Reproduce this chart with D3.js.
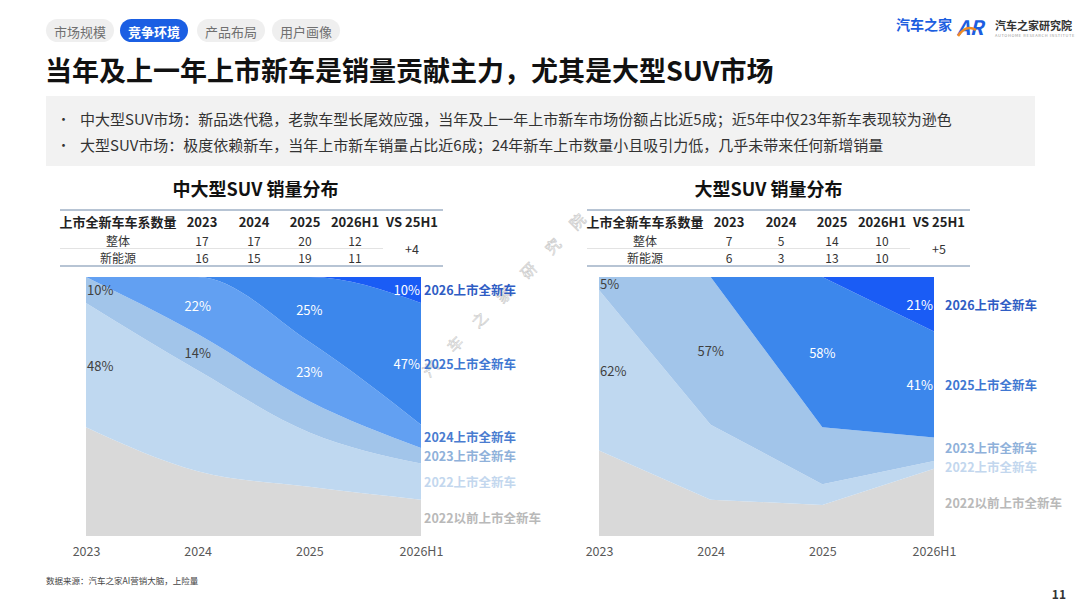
<!DOCTYPE html>
<html>
<head>
<meta charset="utf-8">
<script src="https://cdn.jsdelivr.net/npm/d3@7"></script>
<style>
  body { margin: 0; background: #fff; }
  svg { display: block; font-family: "Noto Sans CJK SC", "Noto Sans", sans-serif; }
</style>
</head>
<body>
<div id="vis"></div>
<script>
// chart values
const YEARS = ['2023', '2024', '2025', '2026H1'];
const LAYERS = ['2022以前上市全新车', '2022上市全新车', '2023上市全新车', '2024上市全新车', '2025上市全新车', '2026上市全新车'];

// 中大型SUV share by launch year (%)
const MID_OLD = [42, 25, 19, 14];
const MID_2022 = [48, 39, 21, 14];
const MID_2023 = [10, 14, 12, 6];
const MID_2024 = [0, 22, 23, 9];
const MID_2025 = [0, 0, 25, 47];
const MID_2026 = [0, 0, 0, 10];

// 大型SUV share by launch year (%), no 2024 layer
const LG_OLD = [33, 14, 12, 26];
const LG_2022 = [62, 29, 8, 3];
const LG_2023 = [5, 57, 22, 9];
const LG_2025 = [0, 0, 58, 41];
const LG_2026 = [0, 0, 0, 21];

// which values get a label: [layer, year index]
const MID_LABELS = [[2, 0], [1, 0], [3, 1], [2, 1], [4, 2], [3, 2], [5, 3], [4, 3]];
const LG_LABELS = [[2, 0], [1, 0], [2, 1], [4, 2], [5, 3], [4, 3]];

// tables
const TABLE_HEAD = ['上市全新车车系数量', '2023', '2024', '2025', '2026H1', 'VS 25H1'];
const ROW_NAMES = ['整体', '新能源'];
const MID_ALL = [17, 17, 20, 12];
const MID_NEV = [16, 15, 19, 11];
const MID_VS = '+4';
const LG_ALL = [7, 5, 14, 10];
const LG_NEV = [6, 3, 13, 10];
const LG_VS = '+5';

const TABS = ['市场规模', '竞争环境', '产品布局', '用户画像'];
const BULLETS = [
  '中大型SUV市场：新品迭代稳，老款车型长尾效应强，当年及上一年上市新车市场份额占比近5成；近5年中仅23年新车表现较为逊色',
  '大型SUV市场：极度依赖新车，当年上市新车销量占比近6成；24年新车上市数量小且吸引力低，几乎未带来任何新增销量'
];

// styles
const LAYER_COLORS = ['#d9d9d9', '#bfd8f0', '#a2c5ea', '#62a0f2', '#3c87ec', '#1a5cf5'];
const LEGEND_COLORS = ['#b9b9b9', '#c3d7ee', '#8fb1da', '#4a7cd0', '#3f77d2', '#2f5dc4'];
const LABEL_COLORS = ['#404040', '#404040', '#404040', '#ffffff', '#ffffff', '#ffffff'];

const FRAME_WIDTH = 1080;
const FRAME_HEIGHT = 608;

const SVG = d3.select('#vis')
  .append('svg')
    .attr('width', FRAME_WIDTH)
    .attr('height', FRAME_HEIGHT);

// ---------- header ----------
const TAB_X = [46, 120, 197, 272];
TABS.forEach((t, i) => {
  const active = i === 1;
  SVG.append('rect')
    .attr('x', TAB_X[i]).attr('y', 19)
    .attr('width', 68).attr('height', 23)
    .attr('rx', 11.5)
    .attr('fill', active ? '#1b5fe3' : '#efefef');
  SVG.append('text')
    .attr('x', TAB_X[i] + 34).attr('y', 31)
    .attr('text-anchor', 'middle')
    .attr('dominant-baseline', 'central')
    .attr('font-size', 13)
    .attr('font-weight', active ? 'bold' : 'normal')
    .attr('fill', active ? '#fff' : '#707070')
    .text(t);
});

SVG.append('text')
  .attr('x', 45).attr('y', 81)
  .attr('font-size', 27)
  .attr('font-weight', 'bold')
  .attr('fill', '#111')
  .text('当年及上一年上市新车是销量贡献主力，尤其是大型SUV市场');

// logo
SVG.append('text')
  .attr('x', 896).attr('y', 30)
  .attr('font-size', 14).attr('font-weight', 'bold')
  .attr('fill', '#1c5ee0')
  .text('汽车之家');
SVG.append('text')
  .attr('x', 957).attr('y', 35)
  .attr('font-size', 20).attr('font-weight', 'bold')
  .attr('font-style', 'italic')
  .attr('fill', '#1c5ee0')
  .text('AR');
SVG.append('path')
  .attr('d', 'M958,36 Q966,24 976,30')
  .attr('fill', 'none').attr('stroke', '#f08a24').attr('stroke-width', 2.5);
SVG.append('text')
  .attr('x', 995).attr('y', 30)
  .attr('font-size', 11).attr('font-weight', 'bold')
  .attr('fill', '#333')
  .text('汽车之家研究院');
SVG.append('text')
  .attr('x', 995).attr('y', 37)
  .attr('font-size', 4).attr('letter-spacing', 0.6)
  .attr('fill', '#999')
  .text('AUTOHOME RESEARCH INSTITUTE');

// bullet box
SVG.append('rect')
  .attr('x', 46).attr('y', 96)
  .attr('width', 989).attr('height', 70)
  .attr('fill', '#f2f2f2');
BULLETS.forEach((b, i) => {
  const y = 118 + i * 26;
  SVG.append('text')
    .attr('x', 57).attr('y', y)
    .attr('dominant-baseline', 'central')
    .attr('font-size', 13).attr('fill', '#333')
    .text('•');
  SVG.append('text')
    .attr('x', 80).attr('y', y)
    .attr('dominant-baseline', 'central')
    .attr('font-size', 15).attr('fill', '#333')
    .text(b);
});

// ---------- watermark ----------
const WM = '汽车之家研究院'.split('');
const WM_G = SVG.append('g').attr('fill', 'none').attr('stroke', '#c8c8c8').attr('stroke-width', 0.6);
WM.forEach((c, i) => {
  const x = 430 + i * 24.5;
  const y = 368 - i * 24.5;
  WM_G.append('text')
    .attr('x', x).attr('y', y)
    .attr('text-anchor', 'middle')
    .attr('dominant-baseline', 'central')
    .attr('font-size', 15)
    .attr('transform', 'rotate(-45,' + x + ',' + y + ')')
    .text(c);
});

// ---------- charts ----------
function build_table(left, allVals, nevVals, vs) {
  const COLS = [58, 142, 194, 245, 295, 352];
  const W = 383;
  const g = SVG.append('g').attr('transform', 'translate(' + left + ',0)');

  g.append('line').attr('x1', 0).attr('x2', W).attr('y1', 210).attr('y2', 210)
    .attr('stroke', '#9fb1c6').attr('stroke-width', 1.5);
  g.append('line').attr('x1', 0).attr('x2', 323).attr('y1', 248.5).attr('y2', 248.5)
    .attr('stroke', '#e3e3e3').attr('stroke-width', 1);
  g.append('line').attr('x1', 0).attr('x2', W).attr('y1', 266).attr('y2', 266)
    .attr('stroke', '#9fb1c6').attr('stroke-width', 1.5);

  TABLE_HEAD.forEach((h, i) => {
    g.append('text')
      .attr('x', COLS[i]).attr('y', 221)
      .attr('text-anchor', 'middle').attr('dominant-baseline', 'central')
      .attr('font-size', 13).attr('font-weight', 'bold').attr('fill', '#222')
      .text(h);
  });

  [allVals, nevVals].forEach((row, r) => {
    const y = 240 + r * 17.5;
    g.append('text')
      .attr('x', COLS[0]).attr('y', y)
      .attr('text-anchor', 'middle').attr('dominant-baseline', 'central')
      .attr('font-size', 12).attr('fill', '#333')
      .text(ROW_NAMES[r]);
    row.forEach((v, i) => {
      g.append('text')
        .attr('x', COLS[i + 1]).attr('y', y)
        .attr('text-anchor', 'middle').attr('dominant-baseline', 'central')
        .attr('font-size', 12).attr('fill', '#333')
        .text(v);
    });
  });

  g.append('text')
    .attr('x', COLS[5]).attr('y', 248.5)
    .attr('text-anchor', 'middle').attr('dominant-baseline', 'central')
    .attr('font-size', 12.5).attr('fill', '#333')
    .text(vs);
}

function build_chart(opts) {
  const X_SCALE = d3.scalePoint()
    .domain(YEARS)
    .range([opts.x0, opts.x1]);
  const Y_SCALE = d3.scaleLinear()
    .domain([0, 100])
    .range([536, 277]);

  // rows for the stack
  const rows = YEARS.map((y, i) => {
    const row = { year: y };
    opts.keys.forEach((k, j) => { row[k] = opts.series[j][i]; });
    return row;
  });
  const stacked = d3.stack().keys(opts.keys)(rows);

  const area = d3.area()
    .x((d) => X_SCALE(d.data.year))
    .y0((d) => Y_SCALE(d[0]))
    .y1((d) => Y_SCALE(d[1]))
    .curve(opts.curve);

  SVG.append('text')
    .attr('x', (opts.x0 + opts.x1) / 2 + 2).attr('y', 188)
    .attr('text-anchor', 'middle').attr('dominant-baseline', 'central')
    .attr('font-size', 18).attr('font-weight', 'bold').attr('fill', '#111')
    .text(opts.title);

  SVG.append('g')
    .selectAll('path')
    .data(stacked)
    .enter()
    .append('path')
      .attr('d', area)
      .attr('fill', (d) => LAYER_COLORS[LAYERS.indexOf(d.key)]);

  // value labels
  opts.labels.forEach(([layer, idx]) => {
    const s = stacked.find((d) => d.key === LAYERS[layer]);
    const p = s[idx];
    let x = X_SCALE(YEARS[idx]);
    let anchor = 'middle';
    if (idx === 0) { x += 1; anchor = 'start'; }
    if (idx === YEARS.length - 1) { x -= 1; anchor = 'end'; }
    SVG.append('text')
      .attr('x', x).attr('y', Y_SCALE((p[0] + p[1]) / 2))
      .attr('text-anchor', anchor).attr('dominant-baseline', 'central')
      .attr('font-size', 13)
      .attr('fill', LABEL_COLORS[layer])
      .text(p.data[LAYERS[layer]] + '%');
  });

  // legend labels at the right edge, spread so they do not overlap
  const last = YEARS.length - 1;
  const legend = stacked.map((s) => ({
    key: s.key,
    y: Y_SCALE((s[last][0] + s[last][1]) / 2)
  }));
  for (let n = 0; n < 20; n++) {
    for (let i = 1; i < legend.length; i++) {
      const gap = legend[i - 1].y - legend[i].y;
      if (gap < 19) {
        const shift = (19 - gap) / 2;
        legend[i - 1].y += shift;
        legend[i].y -= shift;
      }
    }
  }
  legend.forEach((l) => {
    const li = LAYERS.indexOf(l.key);
    SVG.append('text')
      .attr('x', opts.x1 + opts.legendGap).attr('y', l.y)
      .attr('dominant-baseline', 'central')
      .attr('font-size', 12.5).attr('font-weight', 'bold')
      .attr('fill', LEGEND_COLORS[li])
      .text(l.key);
  });

  // x axis
  const axis = SVG.append('g')
    .attr('transform', 'translate(0,545)')
    .call(d3.axisBottom(X_SCALE).tickSize(0).tickPadding(0));
  axis.select('.domain').remove();
  axis.selectAll('text')
    .attr('font-size', 12.5)
    .attr('font-family', '"Noto Sans CJK SC", sans-serif')
    .attr('fill', '#595959')
    .attr('dy', '0.9em');
}

build_table(60, MID_ALL, MID_NEV, MID_VS);
build_table(587, LG_ALL, LG_NEV, LG_VS);

build_chart({
  title: '中大型SUV 销量分布',
  x0: 86, x1: 421, legendGap: 3,
  keys: LAYERS,
  series: [MID_OLD, MID_2022, MID_2023, MID_2024, MID_2025, MID_2026],
  labels: MID_LABELS,
  curve: d3.curveMonotoneX
});

build_chart({
  title: '大型SUV 销量分布',
  x0: 599, x1: 934, legendGap: 11,
  keys: [LAYERS[0], LAYERS[1], LAYERS[2], LAYERS[4], LAYERS[5]],
  series: [LG_OLD, LG_2022, LG_2023, LG_2025, LG_2026],
  labels: LG_LABELS,
  curve: d3.curveLinear
});

// footer
SVG.append('text')
  .attr('x', 46).attr('y', 584)
  .attr('font-size', 8.5).attr('fill', '#444')
  .text('数据来源：汽车之家AI营销大脑，上险量');
SVG.append('text')
  .attr('x', 1066).attr('y', 599)
  .attr('text-anchor', 'end')
  .attr('font-size', 12).attr('font-weight', 'bold').attr('fill', '#333')
  .text('11');
</script>
</body>
</html>
